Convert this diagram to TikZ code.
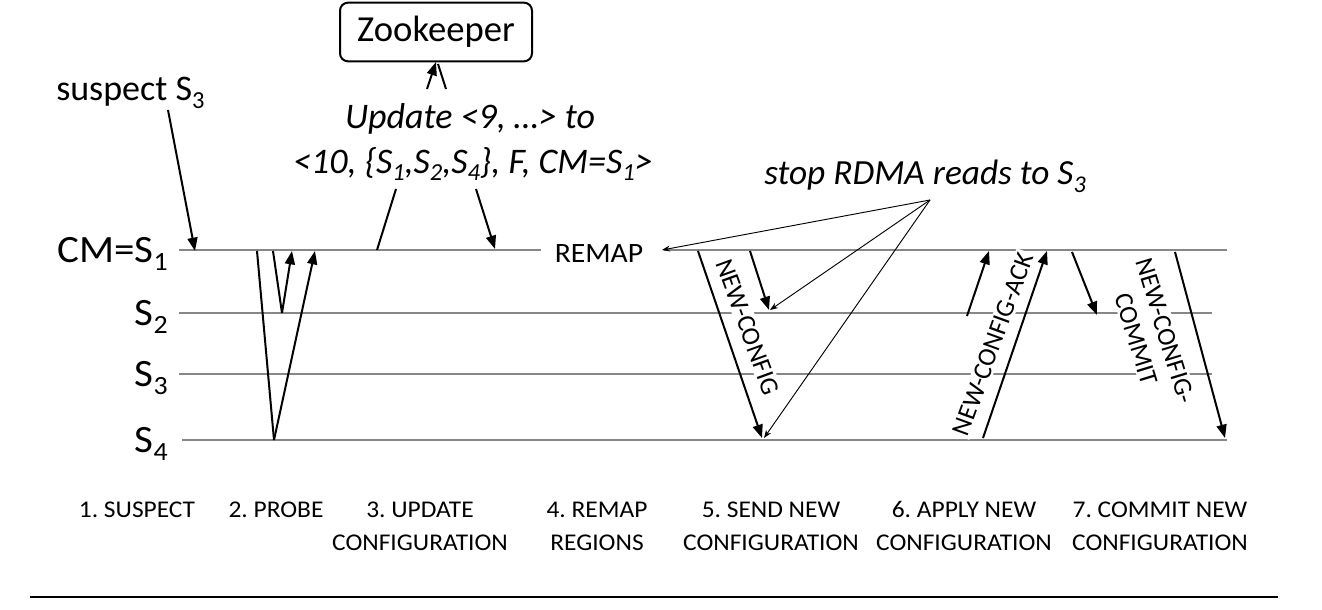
\documentclass[tikz,border=0pt]{standalone}
\usepackage{fontspec}
\setmainfont{Carlito}
\newfontfamily\wide{Carlito}[FakeStretch=1.06]
\usepackage{graphicx}
\usetikzlibrary{arrows.meta}
\definecolor{tlgray}{RGB}{135,135,135}
\newcommand{\sbs}[1]{\raisebox{-0.22em}{\scalebox{0.68}{#1}}}
\frenchspacing
\begin{document}
\begin{tikzpicture}[x=0.75pt,y=-0.75pt,
  tl/.style={draw=tlgray, line width=2pt},
  msg/.style={draw=black, line width=1.5pt, -{Triangle[length=10pt,width=7.5pt]}},
  plain/.style={draw=black, line width=1.5pt},
  ptr/.style={draw=black, line width=0.7pt, -{Stealth[length=6pt,width=4.5pt]}},
  lane/.style={font=\wide\fontsize{29}{33}\selectfont, inner sep=0pt, anchor=base east},
  stagelbl/.style={font=\wide\fontsize{18}{24.75}\selectfont, align=center, anchor=base, inner sep=0pt},
  rot/.style={font=\fontsize{19.5}{22.5}\selectfont, fill=white, inner sep=1.5pt},
  big/.style={font=\fontsize{27}{33}\selectfont, inner sep=0pt},
  bigit/.style={font=\fontsize{27}{33}\selectfont\itshape, inner sep=0pt}
]
\useasboundingbox (0,0) rectangle (1322,610);

% timelines
\coordinate (cmA) at (179,250); \coordinate (cmB) at (541,250);
\coordinate (cmC) at (664,250); \coordinate (cmD) at (1227,250);
\coordinate (s2A) at (179,313); \coordinate (s2B) at (1212,313);
\coordinate (s3A) at (179,374); \coordinate (s3B) at (1212,374);
\coordinate (s4A) at (182,440); \coordinate (s4B) at (1227,440);
\draw[tl] (cmA) -- (cmB);
\draw[tl] (cmC) -- (cmD);
\draw[tl] (s2A) -- (s2B);
\draw[tl] (s3A) -- (s3B);
\draw[tl] (s4A) -- (s4B);

% lane labels
\node[lane] (lcm) at (168,262) {CM=S\sbs{1}};
\node[lane] (ls2) at (168,325) {S\sbs{2}};
\node[lane] (ls3) at (168,386) {S\sbs{3}};
\node[lane] (ls4) at (168,452) {S\sbs{4}};

% suspect
\node[big, anchor=base west] (susp) at (56,101) {suspect S\sbs{3}};
\coordinate (sp0) at (168,110); \coordinate (sp1) at (195,251);
\draw[msg] (sp0) -- (sp1);

% probe
\coordinate (pa) at (257,251); \coordinate (pb) at (274,440); \coordinate (pc) at (315,251);
\coordinate (pd) at (273,251); \coordinate (pe) at (282,313); \coordinate (pf) at (292,251);
\draw[plain] (pa) -- (pb);
\draw[msg] (pb) -- (pc);
\draw[plain] (pd) -- (pe);
\draw[msg] (pe) -- (pf);

% zookeeper
\node[draw, line width=1.5pt, rounded corners=6pt, minimum width=144pt, minimum height=44pt,
      font=\fontsize{27.5}{33}\selectfont] (zk) at (436,32) {Zookeeper};
\coordinate (zl) at (427,89); \coordinate (zt) at (436,62);
\coordinate (zr) at (446,89); \coordinate (zt2) at (438,64);
\draw[msg] (zl) -- (zt);
\draw[plain] (zr) -- (zt2);

% update text
\node[bigit, anchor=base] (upd1) at (470,128) {Update <9, …> to};
\node[bigit, anchor=base] (upd2) at (473,173) {<10, \{S\sbs{1},S\sbs{2},S\sbs{4}\}, F, CM=S\sbs{1}>};
\coordinate (u0) at (377,250); \coordinate (u1) at (396,189);
\coordinate (u2) at (476,189); \coordinate (u3) at (495,249);
\draw[plain] (u0) -- (u1);
\draw[msg] (u2) -- (u3);

% remap
\node[font=\wide\fontsize{21}{24}\selectfont, inner sep=0pt, anchor=base] (remap) at (599,262) {REMAP};

% stop RDMA
\node[font=\fontsize{26.5}{32}\selectfont\itshape, inner sep=0pt, anchor=base] (stop) at (925,185) {stop RDMA reads to S\sbs{3}};

% rotated labels
\node[rot, rotate=-70] (lnc) at (748,327) {NEW-CONFIG};
\node[rot, rotate=70] (lack) at (993,344) {NEW-CONFIG-ACK};
\node[rot, rotate=-73, align=center] (lcom) at (1151,335) {NEW-CONFIG-\\COMMIT};

% thin pointers
\coordinate (r0) at (930,200);
\coordinate (r1) at (662,250); \coordinate (r2) at (770,310); \coordinate (r3) at (764,438);
\draw[ptr] (r0) -- (r1);
\draw[ptr] (r0) -- (r2);
\draw[ptr] (r0) -- (r3);

% new config
\coordinate (n0) at (698,251); \coordinate (n1) at (762,438);
\coordinate (m0) at (750,251); \coordinate (m1) at (769,310);
\draw[msg] (n0) -- (n1);
\draw[msg] (m0) -- (m1);

% ack
\coordinate (a0) at (967,316); \coordinate (a1) at (989,251);
\coordinate (a2) at (983,438); \coordinate (a3) at (1047,251);
\draw[msg] (a0) -- (a1);
\draw[msg] (a2) -- (a3);

% commit
\coordinate (c0) at (1072,252); \coordinate (c1) at (1097,315);
\coordinate (c2) at (1175,252); \coordinate (c3) at (1225,438);
\draw[msg] (c0) -- (c1);
\draw[msg] (c2) -- (c3);

% stage labels (single line: first baseline 517; two lines: last baseline 550)
\node[stagelbl] (st1) at (137,517) {1. SUSPECT};
\node[stagelbl] (st2) at (276,517) {2. PROBE};
\node[stagelbl] (st3) at (420,550) {3. UPDATE\\CONFIGURATION};
\node[stagelbl] (st4) at (597,550) {4. REMAP\\REGIONS};
\node[stagelbl] (st5) at (771,550) {5. SEND NEW\\CONFIGURATION};
\node[stagelbl] (st6) at (964,550) {6. APPLY NEW\\CONFIGURATION};
\node[stagelbl] (st7) at (1160,550) {7. COMMIT NEW\\CONFIGURATION};

% bottom rule
\coordinate (bl0) at (30,597); \coordinate (bl1) at (1278,597);
\draw[line width=1.5pt] (bl0) -- (bl1);
\end{tikzpicture}
\end{document}
